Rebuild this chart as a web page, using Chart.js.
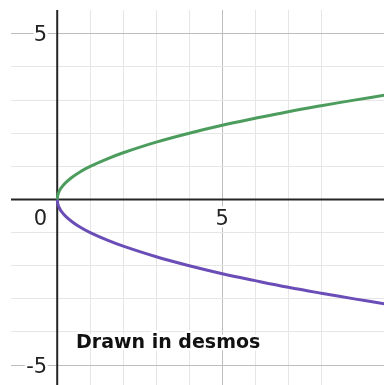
<!DOCTYPE html>
<html>
<head>
<meta charset="utf-8">
<script src="https://cdn.jsdelivr.net/npm/chart.js@4.4.1/dist/chart.umd.min.js"></script>
<style>
  html, body { margin: 0; padding: 0; background: #ffffff; }
  #wrap { width: 384px; height: 385px; }
</style>
</head>
<body>
<div id="wrap"><canvas id="c" width="384" height="385"></canvas></div>
<script>
// Sample points along the two branches of the sideways parabola x = y^2
const curveX  = [0, 0.02, 0.06, 0.12, 0.25, 0.45, 0.7, 1, 1.5, 2, 3, 4, 5, 6, 7, 8, 9, 10];
const upperY  = [0, 0.14, 0.245, 0.35, 0.5, 0.67, 0.84, 1, 1.22, 1.41, 1.73, 2, 2.24, 2.45, 2.65, 2.83, 3, 3.16];
const lowerY  = [0, -0.14, -0.245, -0.35, -0.5, -0.67, -0.84, -1, -1.22, -1.41, -1.73, -2, -2.24, -2.45, -2.65, -2.83, -3, -3.16];

// Axis labels shown next to the axes
const xTickLabels = [5];
const yTickLabels = [5, -5];
const originLabel = '0';
const noteText = 'Drawn in desmos';

const toPoints = (xs, ys) => xs.map((x, i) => ({ x: x, y: ys[i] }));

const GRID_MINOR = '#e6e6e6';
const GRID_MAJOR = '#bdbdbd';
const AXIS_COLOR = '#252525';

function gridColor(ctx) {
  const v = ctx.tick && ctx.tick.value;
  if (v === undefined || Math.abs(v - Math.round(v)) > 1e-9) return 'rgba(0,0,0,0)';
  if (Math.round(v) === 0) return 'rgba(0,0,0,0)';
  return Math.round(v) % 5 === 0 ? GRID_MAJOR : GRID_MINOR;
}

// Axes, tick labels and note, drawn with the chart's own scales
const desmosDecor = {
  id: 'desmosDecor',
  beforeDatasetsDraw(chart) {
    const { ctx, chartArea: a, scales: { x, y } } = chart;
    const x0 = x.getPixelForValue(0);
    const y0 = y.getPixelForValue(0);
    ctx.save();
    ctx.strokeStyle = AXIS_COLOR;
    ctx.lineWidth = 2;
    ctx.beginPath();
    ctx.moveTo(a.left, y0); ctx.lineTo(a.right, y0);
    ctx.moveTo(x0, a.top); ctx.lineTo(x0, a.bottom);
    ctx.stroke();

    ctx.font = '21px "DejaVu Sans"';
    ctx.fillStyle = '#222222';
    ctx.strokeStyle = '#ffffff';
    ctx.lineWidth = 5;
    ctx.lineJoin = 'round';
    const label = (t, px, py) => { ctx.strokeText(t, px, py); ctx.fillText(t, px, py); };

    ctx.textAlign = 'right';
    ctx.textBaseline = 'middle';
    yTickLabels.forEach(v => label(String(v).replace('-', '-'), x0 - 10, y.getPixelForValue(v) + 2));

    ctx.textAlign = 'center';
    ctx.textBaseline = 'top';
    xTickLabels.forEach(v => label(String(v), x.getPixelForValue(v), y0 + 10));

    ctx.textAlign = 'right';
    label(originLabel, x0 - 10, y0 + 10);

    ctx.font = 'bold 19px "DejaVu Sans"';
    ctx.textAlign = 'left';
    ctx.textBaseline = 'alphabetic';
    ctx.fillStyle = '#111111';
    label(noteText, x.getPixelForValue(0.57), y.getPixelForValue(-4.49));
    ctx.restore();
  }
};

new Chart(document.getElementById('c'), {
  type: 'scatter',
  data: {
    datasets: [
      {
        data: toPoints(curveX, upperY),
        showLine: true,
        borderColor: '#4c9d5d',
        borderWidth: 3,
        pointRadius: 0,
        tension: 0.4,
        fill: false
      },
      {
        data: toPoints(curveX, lowerY),
        showLine: true,
        borderColor: '#6a4db6',
        borderWidth: 3,
        pointRadius: 0,
        tension: 0.4,
        fill: false
      }
    ]
  },
  options: {
    responsive: false,
    animation: false,
    devicePixelRatio: 1,
    layout: { padding: { left: 11, top: 10, right: 0, bottom: 0 } },
    plugins: { legend: { display: false }, tooltip: { enabled: false } },
    scales: {
      x: {
        type: 'linear',
        min: -1.4,
        max: 9.9,
        ticks: { display: false, stepSize: 1 },
        grid: { color: gridColor, lineWidth: 1, drawTicks: false },
        border: { display: false }
      },
      y: {
        type: 'linear',
        min: -5.6,
        max: 5.72,
        ticks: { display: false, stepSize: 1 },
        grid: { color: gridColor, lineWidth: 1, drawTicks: false },
        border: { display: false }
      }
    }
  },
  plugins: [desmosDecor]
});
</script>
</body>
</html>
